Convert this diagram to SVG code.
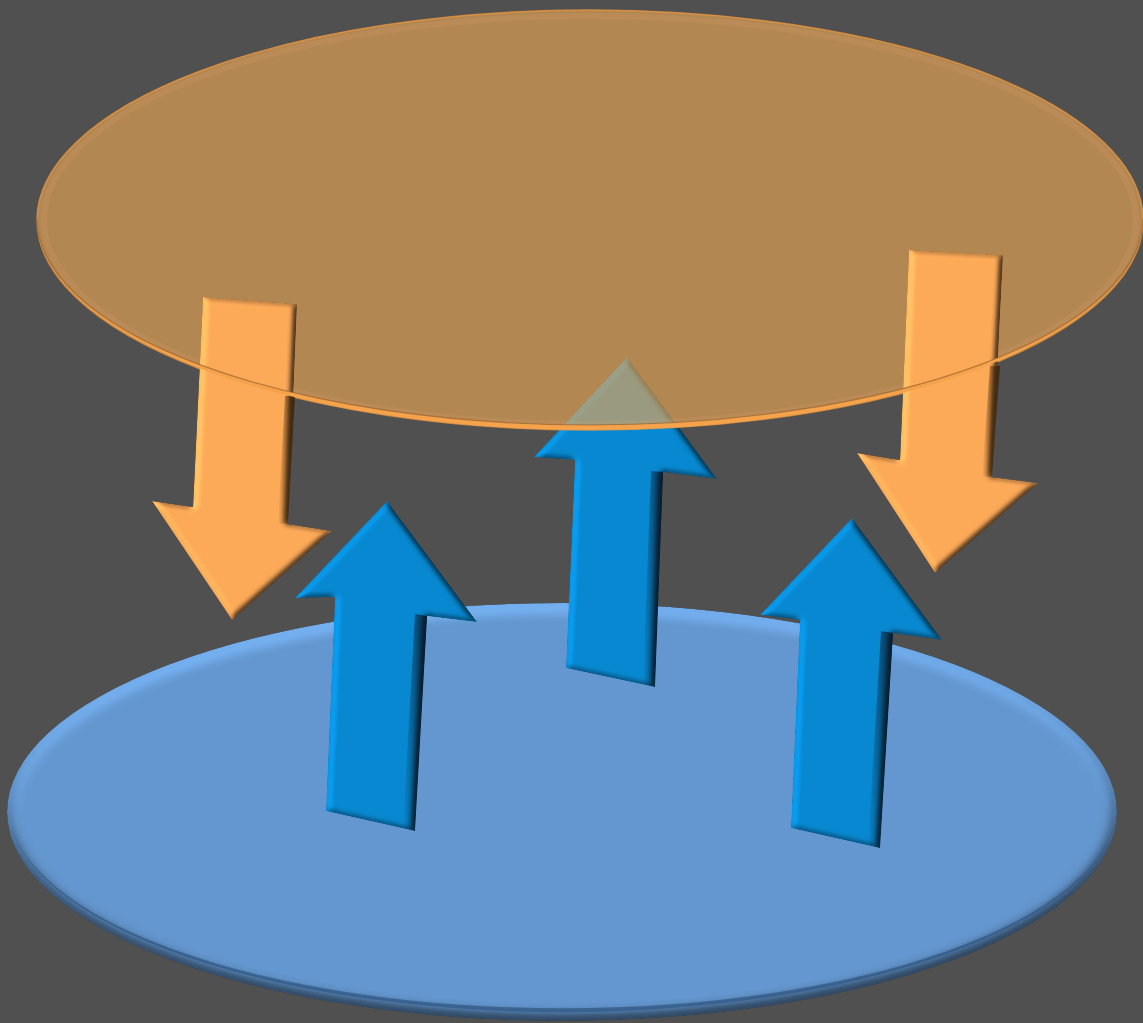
<svg xmlns="http://www.w3.org/2000/svg" width="1143" height="1023" viewBox="0 0 1143 1023">
  <defs>
    <filter id="bev" x="-10%" y="-10%" width="120%" height="120%" color-interpolation-filters="sRGB">
      <feGaussianBlur in="SourceAlpha" stdDeviation="3" result="blur"/>
      <feDiffuseLighting in="blur" surfaceScale="4" diffuseConstant="1" lighting-color="#ffffff" result="light">
        <feDistantLight azimuth="195" elevation="60"/>
      </feDiffuseLighting>
      <feComposite in="SourceGraphic" in2="light" operator="arithmetic" k1="1.155" k2="0" k3="0" k4="0" result="lit"/>
      <feComposite in="lit" in2="SourceAlpha" operator="in"/>
    </filter>
    <filter id="bevDisc" x="-5%" y="-5%" width="110%" height="110%" color-interpolation-filters="sRGB">
      <feGaussianBlur in="SourceAlpha" stdDeviation="7" result="blur"/>
      <feDiffuseLighting in="blur" surfaceScale="6" diffuseConstant="1" lighting-color="#ffffff" result="light">
        <feDistantLight azimuth="260" elevation="60"/>
      </feDiffuseLighting>
      <feComposite in="SourceGraphic" in2="light" operator="arithmetic" k1="1.155" k2="0" k3="0" k4="0" result="lit"/>
      <feComposite in="lit" in2="SourceAlpha" operator="in"/>
    </filter>
    <linearGradient id="sideBlue" x1="0" y1="0" x2="1" y2="0">
      <stop offset="0" stop-color="#0a1a2c" stop-opacity="0"/>
      <stop offset="1" stop-color="#0a1a2c" stop-opacity="0.9"/>
    </linearGradient>
    <linearGradient id="sideOrange" x1="0" y1="0" x2="1" y2="0">
      <stop offset="0" stop-color="#3a2208" stop-opacity="0"/>
      <stop offset="1" stop-color="#3a2208" stop-opacity="0.85"/>
    </linearGradient>
    <style>
      .up { fill: #0888d0; filter: url(#bev); }
      .down { fill: #fdaa58; filter: url(#bev); }
      .sideB { fill: url(#sideBlue); }
      .sideO { fill: url(#sideOrange); }
    </style>
  </defs>

  <rect width="1143" height="1023" fill="#505050"/>

  <g id="bottom-disc">
    <ellipse cx="562" cy="812" rx="555" ry="209" fill="#6497cf" filter="url(#bevDisc)"/>
    <path d="M8,812 A555,209 0 0 0 1117,812 A555,205 0 0 1 8,812 Z" fill="#2f5683" opacity="0.7"/>
  </g>

  <g id="arrow-up-left">
    <polygon class="up" points="387,501 477,622 427,616 415,831 326,811 335,597 295,598"/>
    <polygon class="sideB" points="415,614 427,616 415,831 403,828"/>
  </g>
  <g id="arrow-up-middle">
    <polygon class="up" points="627,357 717,479 663,472 655,687 566,668 575,460 534,457"/>
    <polygon class="sideB" points="651,471 663,472 655,687 643,684"/>
  </g>
  <g id="arrow-up-right">
    <polygon class="up" points="852,518 942,640 893,633 880,848 791,828 800,620 760,615"/>
    <polygon class="sideB" points="881,631 893,633 880,848 868,845"/>
  </g>

  <g id="top-disc">
    <ellipse cx="590" cy="220" rx="553" ry="210" fill="#e8a553" fill-opacity="0.65"/>
    <ellipse cx="590" cy="220" rx="546" ry="204" fill="none" stroke="#f0b070" stroke-width="6" stroke-opacity="0.12"/>
    <ellipse cx="590" cy="220" rx="553" ry="210" fill="none" stroke="#e8963f" stroke-width="1.5" stroke-opacity="0.8"/>
  </g>

  <g id="arrow-down-left">
    <polygon class="down" points="203,297 297,304 288,524 332,531 232,620 152,501 193,507"/>
    <polygon class="sideO" points="285,396 295,396 288,524 278,523"/>
  </g>
  <g id="arrow-down-right">
    <polygon class="down" points="909,250 1003,255 992,477 1038,483 935,573 857,453 900,460"/>
    <polygon class="sideO" points="990,366 1000,366 992,477 982,476"/>
  </g>

  <g id="top-disc-rim">
    <path d="M37,218 A553,212 0 0 0 1143,218 A553,207 0 0 1 37,218 Z" fill="#f4a24c"/>
    <path d="M37,218 A553,207 0 0 0 1143,218" fill="none" stroke="#8c5a28" stroke-width="1.2" stroke-opacity="0.6"/>
  </g>
</svg>
